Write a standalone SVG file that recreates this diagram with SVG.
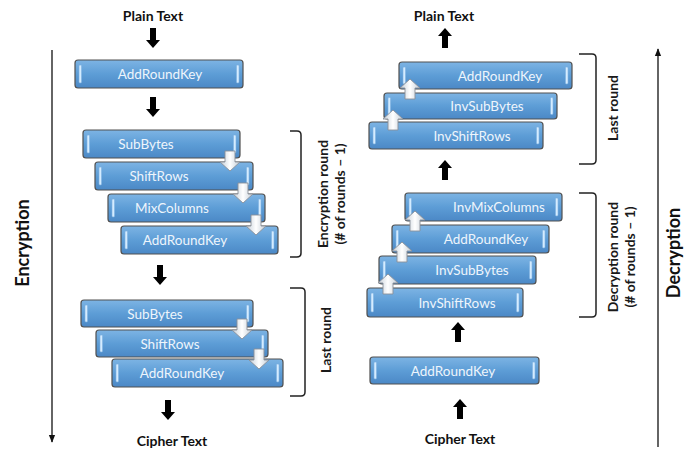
<svg xmlns="http://www.w3.org/2000/svg" xmlns:xlink="http://www.w3.org/1999/xlink" width="686" height="450" viewBox="0 0 686 450">
<defs>
<linearGradient id="gBox" x1="0" y1="0" x2="0" y2="1">
<stop offset="0" stop-color="#7db4e4"/>
<stop offset="0.5" stop-color="#5d9dd6"/>
<stop offset="1" stop-color="#4b88c6"/>
</linearGradient>
<linearGradient id="gArr" x1="0" y1="0" x2="1" y2="0">
<stop offset="0" stop-color="#c3cdd7"/>
<stop offset="0.5" stop-color="#ffffff"/>
<stop offset="1" stop-color="#c3cdd7"/>
</linearGradient>
<path id="bigDown" d="M-3,0 h6 v12 h4 l-7,8 l-7,-8 h4 z"/>
<path id="bigUp" d="M-3,20 h6 v-12 h4 l-7,-8 l-7,8 h4 z"/>
<path id="smDown" d="M-5,0 h10 v11 h5 l-10,9 l-10,-9 h5 z"/>
<path id="smUp" d="M-5,20 h10 v-11 h5 l-10,-9 l-10,9 h5 z"/>
<marker id="mArr" viewBox="0 0 10 10" refX="9" refY="5" markerWidth="8" markerHeight="8" orient="auto-start-reverse" markerUnits="userSpaceOnUse">
<path d="M0,1 L10,5 L0,9 z" fill="#111"/>
</marker>
</defs>
<style>
.box{fill:url(#gBox);stroke:#505050;stroke-width:1.2}
.hl{fill:#d4ecff;stroke:#7fb2e0;stroke-width:0.6}
.bt{font-family:Lato,"Open Sans","Liberation Sans",sans-serif;font-size:13.5px;fill:#eef5fc;text-anchor:middle;dominant-baseline:central}
.title{font-family:Lato,"Liberation Sans",sans-serif;font-size:14px;font-weight:bold;fill:#111;text-anchor:middle}
.side{font-family:Lato,"Liberation Sans",sans-serif;font-size:18px;font-weight:bold;fill:#111;text-anchor:middle;dominant-baseline:central}
.lbl{font-family:Lato,"Liberation Sans",sans-serif;font-size:14px;font-weight:bold;fill:#1a1a1a;text-anchor:middle;dominant-baseline:central}
.big{fill:#000}
.sm{fill:url(#gArr);stroke:#8a9098;stroke-width:0.9}
.br{fill:none;stroke:#222;stroke-width:1.5}
.axis{fill:none;stroke:#111;stroke-width:1.3}
</style>
<rect width="686" height="450" fill="#fff"/>

<!-- titles -->
<g id="enc-plain"><text class="title" x="153" y="21">Plain Text</text></g>
<g id="enc-cipher"><text class="title" x="172" y="446">Cipher Text</text></g>
<g id="dec-plain"><text class="title" x="444" y="21">Plain Text</text></g>
<g id="dec-cipher"><text class="title" x="460" y="444">Cipher Text</text></g>

<!-- encryption boxes -->
<g id="e-ark0"><rect class="box" x="75" y="60" width="168" height="28" rx="3"/><rect class="hl" x="79" y="65" width="2.5" height="18" rx="1"/><rect class="hl" x="236.5" y="65" width="2.5" height="18" rx="1"/><text class="bt" x="160" y="74">AddRoundKey</text></g>
<g id="e-sub1"><rect class="box" x="83" y="130" width="157" height="28" rx="3"/><rect class="hl" x="87" y="135" width="2.5" height="18" rx="1"/><rect class="hl" x="233.5" y="135" width="2.5" height="18" rx="1"/><text class="bt" x="146" y="144">SubBytes</text></g>
<g id="e-shift1"><rect class="box" x="95" y="162" width="158" height="28" rx="3"/><rect class="hl" x="99" y="167" width="2.5" height="18" rx="1"/><rect class="hl" x="246.5" y="167" width="2.5" height="18" rx="1"/><text class="bt" x="159" y="176">ShiftRows</text></g>
<g id="e-mix1"><rect class="box" x="108" y="194" width="157" height="28" rx="3"/><rect class="hl" x="112" y="199" width="2.5" height="18" rx="1"/><rect class="hl" x="258.5" y="199" width="2.5" height="18" rx="1"/><text class="bt" x="172" y="208">MixColumns</text></g>
<g id="e-ark1"><rect class="box" x="121" y="226" width="157" height="28" rx="3"/><rect class="hl" x="125" y="231" width="2.5" height="18" rx="1"/><rect class="hl" x="271.5" y="231" width="2.5" height="18" rx="1"/><text class="bt" x="185" y="240">AddRoundKey</text></g>
<g id="e-sub2"><rect class="box" x="81" y="300" width="172" height="27" rx="3"/><rect class="hl" x="85" y="305" width="2.5" height="17" rx="1"/><rect class="hl" x="246.5" y="305" width="2.5" height="17" rx="1"/><text class="bt" x="155" y="313.5">SubBytes</text></g>
<g id="e-shift2"><rect class="box" x="96" y="330" width="172" height="27" rx="3"/><rect class="hl" x="100" y="335" width="2.5" height="17" rx="1"/><rect class="hl" x="261.5" y="335" width="2.5" height="17" rx="1"/><text class="bt" x="170" y="343.5">ShiftRows</text></g>
<g id="e-ark2"><rect class="box" x="112" y="359" width="171" height="28" rx="3"/><rect class="hl" x="116" y="364" width="2.5" height="18" rx="1"/><rect class="hl" x="276.5" y="364" width="2.5" height="18" rx="1"/><text class="bt" x="182" y="373">AddRoundKey</text></g>

<!-- decryption boxes -->
<g id="d-ark2"><rect class="box" x="399" y="62" width="173" height="27" rx="3"/><rect class="hl" x="403" y="67" width="2.5" height="17" rx="1"/><rect class="hl" x="565.5" y="67" width="2.5" height="17" rx="1"/><text class="bt" x="500" y="75.5">AddRoundKey</text></g>
<g id="d-isub2"><rect class="box" x="384" y="93" width="173" height="26" rx="3"/><rect class="hl" x="388" y="97.5" width="2.5" height="17" rx="1"/><rect class="hl" x="550.5" y="97.5" width="2.5" height="17" rx="1"/><text class="bt" x="487" y="106">InvSubBytes</text></g>
<g id="d-ishift2"><rect class="box" x="369" y="122" width="174" height="27" rx="3"/><rect class="hl" x="373" y="127" width="2.5" height="17" rx="1"/><rect class="hl" x="536.5" y="127" width="2.5" height="17" rx="1"/><text class="bt" x="472" y="135.5">InvShiftRows</text></g>
<g id="d-imix1"><rect class="box" x="405" y="193" width="157" height="28" rx="3"/><rect class="hl" x="409" y="198" width="2.5" height="18" rx="1"/><rect class="hl" x="555.5" y="198" width="2.5" height="18" rx="1"/><text class="bt" x="499" y="207">InvMixColumns</text></g>
<g id="d-ark1"><rect class="box" x="392" y="225" width="157" height="28" rx="3"/><rect class="hl" x="396" y="230" width="2.5" height="18" rx="1"/><rect class="hl" x="542.5" y="230" width="2.5" height="18" rx="1"/><text class="bt" x="486" y="239">AddRoundKey</text></g>
<g id="d-isub1"><rect class="box" x="379" y="256" width="157" height="28" rx="3"/><rect class="hl" x="383" y="261" width="2.5" height="18" rx="1"/><rect class="hl" x="529.5" y="261" width="2.5" height="18" rx="1"/><text class="bt" x="472" y="270">InvSubBytes</text></g>
<g id="d-ishift1"><rect class="box" x="367" y="288" width="156" height="29" rx="3"/><rect class="hl" x="371" y="293" width="2.5" height="19" rx="1"/><rect class="hl" x="516.5" y="293" width="2.5" height="19" rx="1"/><text class="bt" x="457" y="302.5">InvShiftRows</text></g>
<g id="d-ark0"><rect class="box" x="370" y="357" width="169" height="27" rx="3"/><rect class="hl" x="374" y="362" width="2.5" height="17" rx="1"/><rect class="hl" x="532.5" y="362" width="2.5" height="17" rx="1"/><text class="bt" x="453" y="370.5">AddRoundKey</text></g>

<!-- brackets and labels -->
<g id="enc-round-label">
<path class="br" d="M290,131 H297 Q301,131 301,135 V253 Q301,257 297,257 H290"/>
<text class="lbl" transform="translate(322,194) rotate(-90)">Encryption round</text>
<text class="lbl" transform="translate(339,194) rotate(-90)">(# of rounds – 1)</text>
</g>
<g id="enc-last-label">
<path class="br" d="M290,288 H301 Q305,288 305,292 V392 Q305,396 301,396 H290"/>
<text class="lbl" transform="translate(325,340) rotate(-90)">Last round</text>
</g>
<g id="dec-last-label">
<path class="br" d="M579,54 H592 Q596,54 596,58 V160 Q596,164 592,164 H579"/>
<text class="lbl" transform="translate(612,108) rotate(-90)">Last round</text>
</g>
<g id="dec-round-label">
<path class="br" d="M579,193 H592 Q596,193 596,197 V313 Q596,317 592,317 H579"/>
<text class="lbl" transform="translate(612,257) rotate(-90)">Decryption round</text>
<text class="lbl" transform="translate(629,257) rotate(-90)">(# of rounds – 1)</text>
</g>
<g id="enc-axis-label"><text class="side" transform="translate(22,243) rotate(-90)">Encryption</text></g>
<g id="dec-axis-label"><text class="side" transform="translate(673,253) rotate(-90)">Decryption</text></g>

<!-- connectors -->
<g id="connectors">
<line class="axis" x1="52" y1="50" x2="52" y2="442" marker-end="url(#mArr)"/>
<line class="axis" x1="658" y1="447" x2="658" y2="49" marker-end="url(#mArr)"/>
<use href="#bigDown" class="big" x="153" y="28"/>
<use href="#bigDown" class="big" x="153" y="97"/>
<use href="#bigDown" class="big" x="160" y="265"/>
<use href="#bigDown" class="big" x="168" y="400"/>
<use href="#bigUp" class="big" x="445" y="28"/>
<use href="#bigUp" class="big" x="445" y="160"/>
<use href="#bigUp" class="big" x="458" y="322"/>
<use href="#bigUp" class="big" x="460" y="399"/>
<use href="#smDown" class="sm" x="230" y="151"/>
<use href="#smDown" class="sm" x="243" y="183"/>
<use href="#smDown" class="sm" x="256" y="215"/>
<use href="#smDown" class="sm" x="242" y="319"/>
<use href="#smDown" class="sm" x="259" y="349"/>
<use href="#smUp" class="sm" x="393" y="110"/>
<use href="#smUp" class="sm" x="410" y="79"/>
<use href="#smUp" class="sm" x="388" y="274"/>
<use href="#smUp" class="sm" x="402" y="242"/>
<use href="#smUp" class="sm" x="415" y="211"/>
</g>
</svg>
